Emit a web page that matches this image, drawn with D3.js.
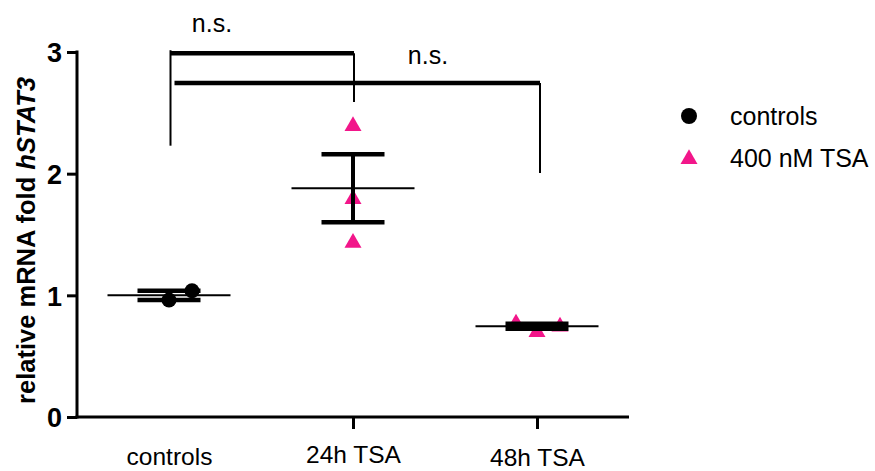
<!DOCTYPE html>
<html>
<head>
<meta charset="utf-8">
<script src="https://cdn.jsdelivr.net/npm/d3@7"></script>
<style>
  html, body { margin: 0; padding: 0; background: #fff; }
  svg { display: block; font-family: "Liberation Sans", Arial, Helvetica, sans-serif; }
</style>
</head>
<body>
<svg id="chart" width="875" height="471"></svg>
<script>
// Groups on the x axis
const groups = ["controls", "24h TSA", "48h TSA"];
// Individual measurements (relative mRNA fold hSTAT3)
const controlsValues = [0.962, 1.038];
const tsa24Values = [2.40, 1.80, 1.44];
const tsa48Values = [0.777, 0.707, 0.752];
// Y axis ticks
const yTicks = [0, 1, 2, 3];
// Legend entries
const seriesNames = ["controls", "400 nM TSA"];
// Significance comparisons: [from group, to group, bar level, left drop end, right drop end, label]
const comparisons = [
  ["controls", "24h TSA", 2.99, 2.23, 2.59, "n.s."],
  ["controls", "48h TSA", 2.745, null, 2.005, "n.s."]
];

const pink = "#F2168A";
const svg = d3.select("#chart");

const x = d3.scalePoint().domain(groups).range([77, 629]).padding(0.5);
const y = d3.scaleLinear().domain([0, 3]).range([417, 52]);

// Horizontal scatter offsets (px) so overlapping replicates stay visible
const spread = {
  "controls": [0, 23],
  "24h TSA": [0, 0, 0],
  "48h TSA": [-21, 0, 23]
};

const sets = [
  { group: "controls", values: controlsValues, shape: "circle", color: "#000" },
  { group: "24h TSA", values: tsa24Values, shape: "triangle", color: pink },
  { group: "48h TSA", values: tsa48Values, shape: "triangle", color: pink }
];

function stats(v) {
  const m = d3.mean(v);
  const sem = d3.deviation(v) / Math.sqrt(v.length);
  return { mean: m, sem: sem };
}

const triangle = d3.symbol().type(d3.symbolTriangle).size(125);

// Y axis
const yAxis = d3.axisLeft(y).tickValues(yTicks).tickFormat(d3.format("d")).tickSize(10).tickSizeOuter(0).tickPadding(5);
const gy = svg.append("g").attr("transform", "translate(77,0)").call(yAxis);
gy.select(".domain").attr("stroke", "#000").attr("stroke-width", 3)
  .attr("d", `M0,${y(0) + 1.5}V${y(3) - 1.5}`);
gy.selectAll(".tick line").attr("stroke", "#000").attr("stroke-width", 3);
gy.selectAll(".tick text").attr("fill", "#000").style("font-size", "27px").style("font-weight", "bold")
  .attr("dy", "0.36em");

// X axis (the first group carries no tick mark)
const xAxis = d3.axisBottom(x).tickSize(12).tickSizeOuter(0).tickPadding(0);
const gx = svg.append("g").attr("transform", `translate(0,${y(0)})`).call(xAxis);
gx.select(".domain").attr("stroke", "#000").attr("stroke-width", 3).attr("d", `M75.5,0H629`);
gx.selectAll(".tick line").attr("stroke", "#000").attr("stroke-width", 3)
  .attr("display", d => d === "controls" ? "none" : null);
const labelBaseline = { "controls": 47.5, "24h TSA": 46, "48h TSA": 48.5 };
gx.selectAll(".tick text").attr("fill", "#000").style("font-size", "24.5px")
  .attr("y", d => labelBaseline[d]).attr("dy", 0);

// Y axis title
const yTitle = svg.append("text")
  .attr("transform", `translate(35,${(y(0) + y(3)) / 2 + 6}) rotate(-90)`)
  .attr("text-anchor", "middle")
  .style("font-size", "25.5px").style("font-weight", "bold");
yTitle.append("tspan").text("relative mRNA fold ");
yTitle.append("tspan").style("font-style", "italic").text("hSTAT3");

// Replicate points
sets.forEach(s => {
  const g = svg.append("g");
  s.values.forEach((v, i) => {
    const px = x(s.group) + spread[s.group][i];
    if (s.shape === "circle") {
      g.append("circle").attr("cx", px).attr("cy", y(v)).attr("r", 7.5).attr("fill", s.color);
    } else {
      g.append("path").attr("d", triangle).attr("transform", `translate(${px},${y(v) + 1})`).attr("fill", s.color);
    }
  });
});

// Mean lines and SEM error bars
sets.forEach(s => {
  const st = stats(s.values);
  const cx = x(s.group);
  const g = svg.append("g").attr("stroke", "#000");
  g.append("line").attr("x1", cx - 61.5).attr("x2", cx + 61.5)
    .attr("y1", y(st.mean)).attr("y2", y(st.mean)).attr("stroke-width", 2);
  g.append("line").attr("x1", cx).attr("x2", cx)
    .attr("y1", y(st.mean + st.sem)).attr("y2", y(st.mean - st.sem)).attr("stroke-width", 4);
  [st.mean + st.sem, st.mean - st.sem].forEach(v => {
    g.append("line").attr("x1", cx - 31.5).attr("x2", cx + 31.5)
      .attr("y1", y(v)).attr("y2", y(v)).attr("stroke-width", 4.5);
  });
});

// Significance brackets
comparisons.forEach(([a, b, level, leftEnd, rightEnd, label], i) => {
  const xa = x(a) + 1.5, xb = x(b) + (i === 0 ? 1 : 3);
  const g = svg.append("g").attr("stroke", "#000");
  const barStart = i === 0 ? xa : xa + 4;
  g.append("line").attr("x1", barStart).attr("x2", xb).attr("y1", y(level)).attr("y2", y(level)).attr("stroke-width", 4.5);
  if (leftEnd !== null) {
    g.append("line").attr("x1", xa).attr("x2", xa).attr("y1", y(level) - 3).attr("y2", y(leftEnd)).attr("stroke-width", 2);
  }
  g.append("line").attr("x1", xb).attr("x2", xb).attr("y1", y(level)).attr("y2", y(rightEnd)).attr("stroke-width", 2);
  svg.append("text")
    .attr("x", i === 0 ? 212 : 428)
    .attr("y", y(level) - (i === 0 ? 21 : 19))
    .attr("text-anchor", "middle")
    .style("font-size", "25px")
    .text(label);
});

// Legend
const legend = svg.append("g");
seriesNames.forEach((name, i) => {
  const ly = 116 + i * 42;
  if (i === 0) {
    legend.append("circle").attr("cx", 689).attr("cy", ly).attr("r", 8).attr("fill", "#000");
  } else {
    legend.append("path").attr("d", triangle).attr("transform", `translate(689,${ly + 1})`).attr("fill", pink);
  }
  legend.append("text").attr("x", 730).attr("y", ly + 9).style("font-size", "25px").text(name);
});
</script>
</body>
</html>
